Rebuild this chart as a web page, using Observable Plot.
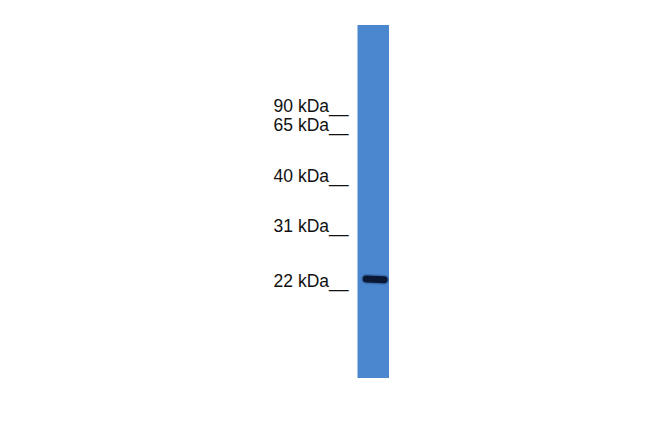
<!DOCTYPE html>
<html>
<head>
<meta charset="utf-8">
<script src="https://cdn.jsdelivr.net/npm/d3@7"></script>
<script src="https://cdn.jsdelivr.net/npm/@observablehq/plot@0.6"></script>
<style>
  html, body { margin: 0; padding: 0; background: #ffffff; }
  #chart svg { display: block; }
</style>
</head>
<body>
<div id="chart"></div>
<script>
// Marker ladder (kDa) and their migration (% of lane length, top = 0)
const markerKDa = [90, 65, 40, 31, 22];
const markerMigration = [24.4, 30.0, 44.2, 58.4, 74.2];

// Detected band: migration (% of lane) and horizontal extent within the lane (0..1)
const bandMigration = [71.8];
const bandStart = [0.26];
const bandEnd = [0.83];

const markers = markerKDa.map((k, i) => ({kDa: k, pos: markerMigration[i]}));
const bandPts = [];
bandMigration.forEach((m, i) => {
  bandPts.push({x: bandStart[i], y: m, id: i});
  bandPts.push({x: bandEnd[i], y: m + 0.2, id: i});
});

const chart = Plot.plot({
  width: 650,
  height: 433,
  margin: 0,
  style: {background: "#ffffff"},
  x: {domain: [0, 1], range: [357.5, 389], axis: null},
  y: {domain: [0, 100], range: [25, 378], axis: null},
  marks: [
    Plot.rect([{}], {x1: 0, x2: 1, y1: 0, y2: 100, fill: "#4a87cf"}),
    Plot.line(bandPts, {x: "x", y: "y", z: "id", stroke: "#1d3a6e", strokeWidth: 10, strokeLinecap: "round", strokeOpacity: 0.35}),
    Plot.line(bandPts, {x: "x", y: "y", z: "id", stroke: "#0b1833", strokeWidth: 7, strokeLinecap: "round"}),
    Plot.text(markers, {
      x: 0, y: "pos",
      text: d => `${d.kDa} kDa__`,
      textAnchor: "end", lineAnchor: "bottom", dx: -9.5,
      fontSize: 17.5, fontFamily: "Liberation Sans, Arial, sans-serif", fill: "#111111"
    })
  ]
});
document.getElementById("chart").appendChild(chart);
</script>
</body>
</html>
